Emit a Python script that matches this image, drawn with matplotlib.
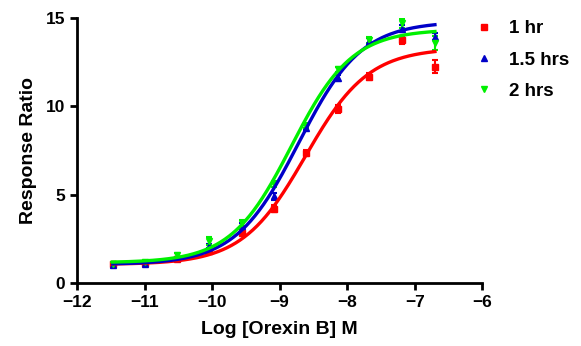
import numpy as np
import matplotlib
matplotlib.use("Agg")
import matplotlib.pyplot as plt
from matplotlib.lines import Line2D

plt.rcParams['font.family'] = ['Liberation Sans', 'DejaVu Sans']
plt.rcParams['font.weight'] = 'bold'

# log concentrations, 3-fold dilutions from 200 nM
log_conc = [-11.47, -10.99, -10.52, -10.04, -9.56, -9.09,
            -8.61, -8.14, -7.67, -7.19, -6.70]

resp_1hr = [1.10, 1.15, 1.35, 1.80, 2.85, 4.20, 7.36, 9.85, 11.68, 13.75, 12.25]
err_1hr = [0.10, 0.08, 0.10, 0.12, 0.15, 0.20, 0.15, 0.20, 0.20, 0.20, 0.35]

resp_15hr = [1.00, 1.05, 1.40, 2.10, 3.24, 4.90, 8.80, 11.60, 13.70, 14.40, 13.95]
err_15hr = [0.10, 0.08, 0.10, 0.12, 0.15, 0.20, 0.15, 0.15, 0.15, 0.20, 0.20]

resp_2hr = [1.10, 1.20, 1.60, 2.38, 3.40, 5.60, 8.90, 12.10, 13.75, 14.70, 13.60]
err_2hr = [0.10, 0.08, 0.12, 0.20, 0.15, 0.15, 0.15, 0.15, 0.15, 0.25, 0.40]

# fitted 4PL parameters (bottom, top, logEC50, hill)
fit_1hr = (1.05, 13.30, -8.618, 0.927)
fit_15hr = (1.05, 14.80, -8.718, 0.930)
fit_2hr = (1.15, 14.35, -8.825, 0.966)

labels = ["1 hr", "1.5 hrs", "2 hrs"]
colors = ["#FF0000", "#0000C8", "#00F000"]
markers = ["s", "^", "v"]


def four_pl(x, p):
    bottom, top, ec50, hill = p
    return bottom + (top - bottom) / (1 + 10 ** ((ec50 - x) * hill))


fig = plt.figure(figsize=(5.81, 3.46), dpi=100)
ax = fig.add_axes([0.1325, 0.182, 0.6975, 0.766])

xs = np.linspace(log_conc[0], log_conc[-1], 300)
series = [(resp_1hr, err_1hr, fit_1hr), (resp_15hr, err_15hr, fit_15hr),
          (resp_2hr, err_2hr, fit_2hr)]
for (y, e, p), c, m in zip(series, colors, markers):
    ax.errorbar(log_conc, y, yerr=e, fmt=m, color=c, ms=4.5, capsize=2.5,
                elinewidth=1.5, capthick=1.5, zorder=3)
    ax.plot(xs, four_pl(xs, p), color=c, lw=2.4, zorder=4)

ax.set_xlim(-12, -6)
ax.set_ylim(0, 15)
ax.set_xticks(range(-12, -5))
ax.set_yticks([0, 5, 10, 15])
for s in ["top", "right"]:
    ax.spines[s].set_visible(False)
for s in ["left", "bottom"]:
    ax.spines[s].set_linewidth(2)
ax.tick_params(width=2, length=5, labelsize=12.5)
ax.set_xlabel("Log [Orexin B] M", fontsize=14, fontweight='bold', labelpad=8)
ax.set_ylabel("Response Ratio", fontsize=14, fontweight='bold', labelpad=6)

handles = [Line2D([], [], ls='none', marker=m, color=c, ms=4.5)
           for c, m in zip(colors, markers)]
fig.legend(handles, labels, loc='upper left', bbox_to_anchor=(0.78, 0.99),
           frameon=False, fontsize=13.5, handletextpad=0.6, labelspacing=0.75,
           handlelength=1.5)

fig.savefig("out.png", dpi=100)
